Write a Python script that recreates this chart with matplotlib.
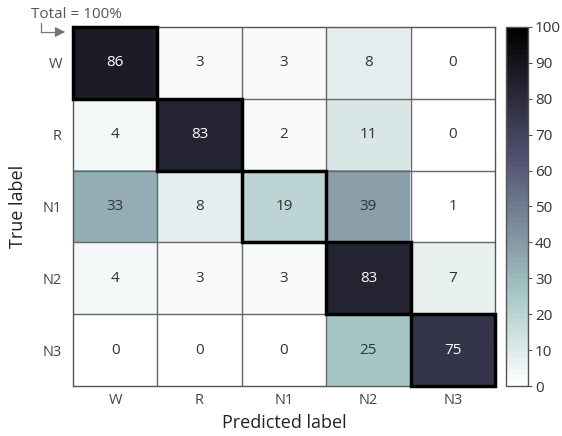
import matplotlib
matplotlib.use('Agg')
import matplotlib.pyplot as plt
import numpy as np
from matplotlib.patches import Rectangle

plt.rcParams['font.family'] = ['Open Sans', 'DejaVu Sans']

# 数据
classes = ['W', 'R', 'N1', 'N2', 'N3']
cm = np.array([
    [86, 3, 3, 8, 0],
    [4, 83, 2, 11, 0],
    [33, 8, 19, 39, 1],
    [4, 3, 3, 83, 7],
    [0, 0, 0, 25, 75],
])
cbar_ticks = [0, 10, 20, 30, 40, 50, 60, 70, 80, 90, 100]

W, H = 562, 436
fig = plt.figure(figsize=(W / 100, H / 100), dpi=100)
ax = fig.add_axes([73 / W, 1 - 386 / H, 422 / W, 359 / H])
cax = fig.add_axes([506 / W, 1 - 386 / H, 22 / W, 359 / H])

cmap = plt.get_cmap('bone_r', 64)
im = ax.imshow(cm, cmap=cmap, vmin=0, vmax=100, aspect='auto')

# 网格线
n = len(classes)
for k in range(1, n):
    ax.axvline(k - 0.5, color='#666666', lw=1.0)
    ax.axhline(k - 0.5, color='#666666', lw=1.0)
for s in ax.spines.values():
    s.set_color('#555555')
    s.set_linewidth(1.0)

# 对角线粗边框
for i in range(n):
    ax.add_patch(Rectangle((i - 0.5, i - 0.5), 1, 1, fill=False,
                           edgecolor='black', lw=2.5, zorder=5, clip_on=False))

# 数值标签
for i in range(n):
    for j in range(n):
        v = cm[i, j]
        ax.text(j, i, f'{v}', ha='center', va='center', fontsize=11,
                color='white' if v > 60 else '#333333')

ax.set_xticks(range(n))
ax.set_yticks(range(n))
ax.set_xticklabels(classes)
ax.set_yticklabels(classes)
ax.tick_params(axis='x', length=0, pad=5, labelsize=10.5, colors='#444444')
ax.tick_params(axis='y', length=0, pad=8, labelsize=10.5, colors='#444444')
ax.set_xlabel('Predicted label', fontsize=13, color='#222222', labelpad=4)
ax.set_ylabel('True label', fontsize=13, color='#222222', labelpad=11)

cb = fig.colorbar(im, cax=cax, ticks=cbar_ticks)
cb.outline.set_edgecolor('#555555')
cb.outline.set_linewidth(1.0)
cax.tick_params(length=3, width=0.8, color='#555555', labelsize=11,
                labelcolor='#333333', pad=2)

# Total = 100% 标注
fig.text(31 / W, 1 - 14 / H, 'Total = 100%', fontsize=11, color='#555555',
         ha='left', va='center')
fig.add_artist(plt.Line2D([41 / W, 41 / W], [1 - 23 / H, 1 - 32 / H],
                          color='#777777', lw=0.9))
fig.add_artist(plt.Line2D([41 / W, 60 / W], [1 - 32 / H, 1 - 32 / H],
                          color='#777777', lw=0.9))
ax.annotate('', xy=(68 / W, 1 - 32 / H), xycoords='figure fraction',
            xytext=(58 / W, 1 - 32 / H), textcoords='figure fraction',
            arrowprops=dict(arrowstyle='-|>,head_length=0.6,head_width=0.3',
                            color='#777777', lw=0.9))

plt.savefig('out.png', dpi=100)
